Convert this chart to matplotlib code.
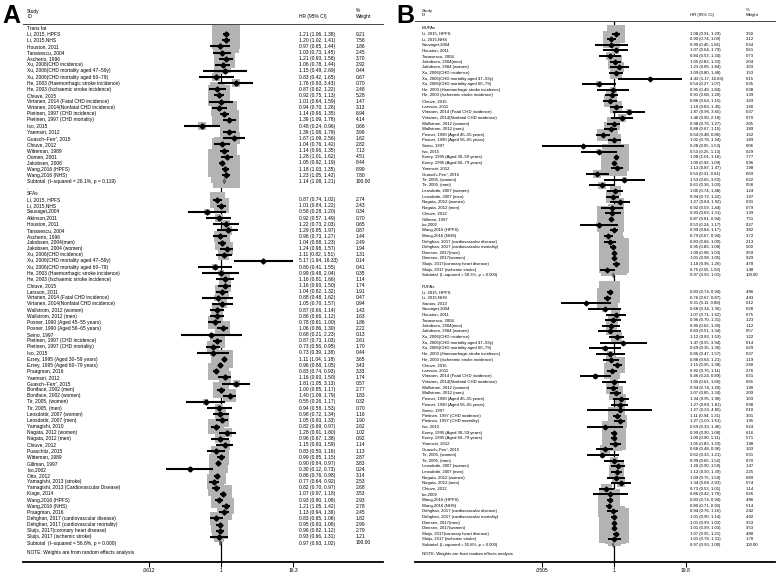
import numpy as np
import matplotlib
matplotlib.use("Agg")
import matplotlib.pyplot as plt
from matplotlib.transforms import blended_transform_factory

plt.rcParams['font.family'] = ['Liberation Sans', 'DejaVu Sans']

W, H, DPI = 778, 574, 100

# ---------------- Panel A: trans fat ----------------
trans_labels = [
    "Li, 2015, HPFS", "Li, 2015,NHS", "Houston, 2011", "Tanasescu, 2004", "Ascherio, 1996",
    "Xu, 2006(CHD incidence)", "Xu, 2006(CHD mortality aged 47–59y)", "Xu, 2006(CHD mortality aged 60–79)",
    "He, 2003 (Haemorrhagic stroke incidence)", "He, 2003 (Ischaemic stroke incidence)", "Chiuve, 2015",
    "Virtanen, 2014 (Fatal CHD incidence)", "Virtanen, 2014(Nonfatal CHD incidence)",
    "Pietinen, 1997 (CHD incidence)", "Pietinen, 1997 (CHD mortality)", "Iso, 2015", "Yaemsiri, 2012",
    "Guasch–Ferr', 2015", "Chiuve, 2012", "Witteman, 1989", "Oomen, 2001", "Jakobsen, 2008",
    "Wang,2016 (HPFS)", "Wang,2016 (NHS)",
]
trans_hr = [1.21, 1.20, 0.97, 1.03, 1.21, 1.06, 1.15, 0.83, 1.76, 0.87, 0.92, 1.01, 0.94,
            1.14, 1.39, 0.48, 1.39, 1.67, 1.04, 1.14, 1.28, 1.05, 1.18, 1.23]
trans_lo = [1.06, 1.02, 0.65, 0.73, 0.93, 0.78, 0.49, 0.42, 0.90, 0.62, 0.75, 0.64, 0.70,
            0.96, 1.09, 0.24, 1.08, 1.09, 0.76, 0.96, 1.01, 0.92, 1.03, 1.05]
trans_hi = [1.38, 1.41, 1.44, 1.45, 1.58, 1.44, 2.69, 1.65, 3.43, 1.22, 1.13, 1.59, 1.26,
            1.35, 1.78, 0.96, 1.79, 2.56, 1.42, 1.35, 1.62, 1.19, 1.35, 1.42]
trans_wt = [9.21, 7.58, 1.86, 2.45, 3.70, 2.92, 0.44, 0.67, 0.70, 2.48, 5.28, 1.47, 3.13,
            6.94, 4.14, 0.66, 3.99, 1.62, 2.82, 7.13, 4.51, 8.44, 8.99, 7.80]
trans_sub = (1.14, 1.08, 1.21, "26.1%", "0.119")

# ---------------- Panel A: SFAs ----------------
sfa_labels = [
    "Li, 2015, HPFS", "Li, 2015,NHS", "Sauvaget,2004", "Atkinson,2011", "Houston, 2011",
    "Tanasescu, 2004", "Ascherio, 1996", "Jakobsen, 2004(men)", "Jakobsen, 2004 (women)",
    "Xu, 2006(CHD incidence)", "Xu, 2006(CHD mortality aged 47–59y)", "Xu, 2006(CHD mortality aged 60–79)",
    "He, 2003 (Haemorrhagic stroke incidence)", "He, 2003 (Ischaemic stroke incidence)", "Chiuve, 2015",
    "Larsson, 2011", "Virtanen, 2014 (Fatal CHD incidence)", "Virtanen, 2014(Nonfatal CHD incidence)",
    "Wallstrom, 2012 (women)", "Wallstrom, 2012 (men)", "Posner, 1990 (Aged 45–55 years)",
    "Posner, 1990 (Aged 56–65 years)", "Seino, 1997", "Pietinen, 1997 (CHD incidence)",
    "Pietinen, 1997 (CHD mortality)", "Iso, 2015", "Ezrey, 1995 (Aged 30–59 years)",
    "Ezrey, 1995 (Aged 60–79 years)", "Praagman, 2016", "Yaemsiri, 2012", "Guasch–Ferr', 2015",
    "Boniface, 2002 (men)", "Boniface, 2002 (women)", "Tir, 2005, (women)", "Tir, 2005, (men)",
    "Leosdottir, 2007 (women)", "Leosdottir, 2007 (men)", "Yamagishi, 2010", "Nagata, 2012 (women)",
    "Nagata, 2012 (men)", "Chiuve, 2012", "Puaschitz, 2015", "Witteman, 1989", "Gillman, 1997",
    "Iso,2002", "Otto, 2012", "Yamagishi, 2013 (stroke)", "Yamagishi, 2013 (Cardiovascular Disease)",
    "Kiage, 2014", "Wang,2016 (HPFS)", "Wang,2016 (NHS)", "Praagman, 2016",
    "Dehghan, 2017 (cardiovascular disease)", "Dehghan, 2017 (cardiovascular mortality)",
    "Sluijs, 2017(coronary heart disease)", "Sluijs, 2017 (ischemic stroke)",
]
sfa_hr = [0.87, 1.01, 0.58, 0.92, 1.22, 1.29, 0.96, 1.04, 1.24, 1.11, 5.17, 0.80, 0.99, 1.16,
          1.16, 1.04, 0.88, 1.05, 0.87, 0.86, 0.78, 1.06, 0.68, 0.87, 0.73, 0.73, 1.11, 0.96,
          0.83, 1.16, 1.81, 1.00, 1.40, 0.55, 0.94, 0.98, 1.05, 0.82, 1.28, 0.96, 1.15, 0.83,
          0.99, 0.90, 0.30, 0.86, 0.77, 0.82, 1.07, 0.93, 1.21, 1.13, 0.83, 0.95, 0.96, 0.93]
sfa_lo = [0.74, 0.84, 0.28, 0.57, 0.73, 0.85, 0.73, 0.88, 0.98, 0.82, 1.64, 0.41, 0.48, 0.81,
          0.90, 0.82, 0.48, 0.70, 0.66, 0.66, 0.61, 0.86, 0.21, 0.73, 0.56, 0.39, 1.04, 0.88,
          0.74, 0.90, 1.05, 0.85, 1.09, 0.26, 0.58, 0.72, 0.83, 0.69, 0.91, 0.67, 0.83, 0.59,
          0.85, 0.84, 0.12, 0.76, 0.64, 0.70, 0.97, 0.80, 1.05, 0.94, 0.65, 0.83, 0.82, 0.66]
sfa_hi = [1.02, 1.22, 1.20, 1.49, 2.03, 1.97, 1.27, 1.23, 1.57, 1.51, 16.33, 1.55, 2.04, 1.66,
          1.50, 1.32, 1.62, 1.57, 1.14, 1.12, 1.00, 1.30, 2.23, 1.03, 0.95, 1.38, 1.18, 1.05,
          0.93, 1.50, 3.13, 1.17, 1.79, 1.17, 1.53, 1.34, 1.33, 0.97, 1.80, 1.38, 1.59, 1.16,
          1.15, 0.97, 0.73, 0.98, 0.92, 0.97, 1.18, 1.08, 1.42, 1.36, 1.06, 1.08, 1.12, 1.31]
sfa_wt = [2.74, 2.43, 0.34, 0.70, 0.65, 0.87, 1.44, 2.49, 1.94, 1.31, 0.14, 0.41, 0.35, 1.14,
          1.74, 1.91, 0.47, 0.94, 1.43, 1.63, 1.86, 2.22, 0.13, 2.61, 1.70, 0.44, 3.65, 3.43,
          3.33, 1.74, 0.57, 2.77, 1.83, 0.32, 0.70, 1.16, 1.90, 2.62, 1.02, 0.92, 1.14, 1.13,
          2.87, 3.83, 0.24, 3.14, 2.53, 2.68, 3.53, 2.93, 2.78, 2.45, 1.82, 2.99, 2.79, 1.21]
sfa_sub = (0.97, 0.93, 1.02, "56.8%", "0.000")

# ---------------- Panel B: MUFAs ----------------
mufa_labels = [
    "Li, 2015, HPFS", "Li, 2015,NHS", "Sauvaget,2004", "Houston, 2011", "Tanasescu, 2004",
    "Jakobsen, 2004(men)", "Jakobsen, 2004 (women)", "Xu, 2006(CHD incidence)",
    "Xu, 2006(CHD mortality aged 47–59y)", "Xu, 2006(CHD mortality aged 60–79)",
    "He, 2003 (Haemorrhagic stroke incidence)", "He, 2003 (Ischaemic stroke incidence)", "Chiuve, 2015",
    "Larsson, 2011", "Virtanen, 2014 (Fatal CHD incidence)", "Virtanen, 2014(Nonfatal CHD incidence)",
    "Wallstrom, 2012 (women)", "Wallstrom, 2012 (men)", "Posner, 1990 (Aged 45–55 years)",
    "Posner, 1990 (Aged 56–65 years)", "Seino, 1997", "Iso, 2015", "Ezrey, 1995 (Aged 30–59 years)",
    "Ezrey, 1995 (Aged 60–79 years)", "Yaemsiri, 2012", "Guasch–Ferr', 2015", "Tir, 2005, (women)",
    "Tir, 2005, (men)", "Leosdottir, 2007 (women)", "Leosdottir, 2007 (men)", "Nagata, 2012 (women)",
    "Nagata, 2012 (men)", "Chiuve, 2012", "Gillman, 1997", "Iso,2002", "Wang,2016 (HPFS)",
    "Wang,2016 (NHS)", "Dehghan, 2017 (cardiovascular disease)", "Dehghan, 2017 (cardiovascular mortality)",
    "Dinesen, 2017(men)", "Dinesen, 2017(women)", "Sluijs, 2017(coronary heart disease)",
    "Sluijs, 2017 (ischemic stroke)",
]
mufa_hr = [1.08, 0.90, 0.90, 1.07, 0.84, 1.05, 1.23, 1.09, 4.43, 0.54, 0.95, 0.91, 0.86, 1.10,
           1.87, 1.40, 0.98, 0.88, 0.64, 1.02, 0.28, 0.53, 1.08, 1.00, 1.13, 0.50, 1.53, 0.61,
           1.05, 0.94, 1.27, 0.92, 0.93, 0.87, 0.53, 0.99, 0.79, 0.83, 0.95, 1.00, 1.01, 1.10, 0.75]
mufa_lo = [0.91, 0.74, 0.45, 0.64, 0.53, 0.83, 0.85, 0.80, 1.17, 0.27, 0.49, 0.68, 0.64, 0.83,
           0.96, 0.90, 0.76, 0.67, 0.48, 0.78, 0.05, 0.25, 1.01, 0.92, 0.87, 0.31, 0.65, 0.36,
           0.74, 0.72, 0.84, 0.59, 0.69, 0.81, 0.24, 0.84, 0.67, 0.66, 0.83, 0.98, 0.98, 0.96, 0.55]
mufa_hi = [1.29, 1.09, 1.81, 1.79, 1.34, 1.33, 1.84, 1.48, 16.83, 1.07, 1.84, 1.20, 1.15, 1.45,
           3.65, 2.18, 1.27, 1.15, 0.86, 1.34, 1.53, 1.13, 1.16, 1.09, 1.47, 0.81, 3.63, 1.03,
           1.48, 1.22, 1.92, 1.44, 1.31, 0.94, 1.17, 1.17, 0.94, 1.09, 1.08, 1.03, 1.05, 1.26, 1.03]
mufa_wt = [3.50, 3.12, 0.34, 0.61, 0.73, 2.04, 1.03, 1.53, 0.15, 0.35, 0.38, 1.39, 1.69, 1.60,
           0.37, 0.70, 2.05, 1.89, 1.62, 1.89, 0.06, 0.29, 7.77, 6.96, 1.98, 0.69, 0.22, 0.58,
           1.24, 1.97, 0.91, 0.79, 1.39, 7.51, 0.27, 3.82, 3.72, 2.13, 5.00, 9.59, 9.29, 4.78, 1.48]
mufa_sub = (0.97, 0.93, 1.01, "50.3%", "0.000")

# ---------------- Panel B: PUFAs ----------------
pufa_labels = [
    "Li, 2015, HPFS", "Li, 2015,NHS", "Santos, 2013", "Sauvaget,2004", "Houston, 2011",
    "Tanasescu, 2004", "Jakobsen, 2004(men)", "Jakobsen, 2004 (women)", "Xu, 2006(CHD incidence)",
    "Xu, 2006(CHD mortality aged 47–59y)", "Xu, 2006(CHD mortality aged 60–79)",
    "He, 2003 (Haemorrhagic stroke incidence)", "He, 2003 (Ischaemic stroke incidence)", "Chiuve, 2015",
    "Larsson, 2011", "Virtanen, 2014 (Fatal CHD incidence)", "Virtanen, 2014(Nonfatal CHD incidence)",
    "Wallstrom, 2012 (women)", "Wallstrom, 2012 (men)", "Posner, 1990 (Aged 45–55 years)",
    "Posner, 1990 (Aged 56–65 years)", "Seino, 1997", "Pietinen, 1997 (CHD incidence)",
    "Pietinen, 1997 (CHD mortality)", "Iso, 2015", "Ezrey, 1995 (Aged 30–59 years)",
    "Ezrey, 1995 (Aged 60–79 years)", "Yaemsiri, 2012", "Guasch–Ferr', 2015", "Tir, 2005, (women)",
    "Tir, 2005, (men)", "Leosdottir, 2007 (women)", "Leosdottir, 2007 (men)", "Nagata, 2012 (women)",
    "Nagata, 2012 (men)", "Chiuve, 2012", "Iso,2002", "Wang,2016 (HPFS)", "Wang,2016 (NHS)",
    "Dehghan, 2017 (cardiovascular disease)", "Dehghan, 2017 (cardiovascular mortality)",
    "Dinesen, 2017(men)", "Dinesen, 2017(women)", "Sluijs, 2017(coronary heart disease)",
    "Sluijs, 2017 (ischemic stroke)",
]
pufa_hr = [0.83, 0.76, 0.31, 0.68, 1.07, 0.96, 0.90, 0.83, 1.12, 1.47, 0.69, 0.86, 0.88, 1.15,
           0.92, 0.46, 1.00, 0.94, 1.07, 1.34, 1.27, 1.27, 1.11, 1.27, 0.69, 0.99, 1.00, 1.05,
           0.68, 0.62, 0.99, 1.20, 1.12, 1.09, 1.34, 0.73, 0.86, 0.83, 0.80, 0.94, 1.01, 1.01,
           1.01, 1.07, 1.01]
pufa_lo = [0.74, 0.67, 0.11, 0.34, 0.71, 0.70, 0.62, 0.51, 0.82, 0.55, 0.35, 0.47, 0.64, 0.95,
           0.76, 0.24, 0.61, 0.74, 0.85, 0.95, 0.89, 0.33, 0.94, 1.00, 0.33, 0.90, 0.90, 0.83,
           0.48, 0.33, 0.65, 0.90, 0.90, 0.75, 0.88, 0.53, 0.42, 0.74, 0.71, 0.76, 0.90, 0.99,
           0.99, 0.95, 0.78]
pufa_hi = [0.94, 0.87, 0.88, 1.36, 1.62, 1.31, 1.30, 1.34, 1.53, 3.94, 1.36, 1.57, 1.21, 1.38,
           1.11, 0.89, 1.66, 1.20, 1.34, 1.90, 1.81, 4.85, 1.31, 1.61, 1.46, 1.08, 1.11, 1.33,
           0.96, 1.21, 1.52, 1.59, 1.39, 1.59, 2.03, 1.01, 1.76, 0.94, 0.90, 1.16, 1.14, 1.03,
           1.03, 1.21, 1.31]
pufa_wt = [4.86, 4.43, 0.12, 0.28, 0.75, 1.23, 1.12, 0.57, 1.22, 0.14, 0.29, 0.37, 1.19, 2.60,
           2.76, 0.31, 0.65, 1.90, 2.09, 1.03, 0.98, 0.10, 3.01, 1.95, 0.24, 6.16, 5.71, 1.98,
           1.03, 0.31, 0.70, 1.47, 2.25, 0.89, 0.74, 1.14, 0.26, 4.86, 5.14, 2.42, 4.92, 9.53,
           9.53, 4.80, 1.70]
pufa_sub = (0.97, 0.93, 1.00, "55.8%", "0.000")

BOX_GREY = "#b3b3b3"


def px(x):
    return x / W


def py(y):
    return 1 - y / H


def draw_panel(fig, left, right, top, first_row, last_row, one_px, per_ln, groups,
               fs, k_box, ci_lw, mk, x_lab, x_hr, x_wt, ticks, ticklabels):
    ax = fig.add_axes([px(left), py(562), px(right - left), (562 - top) / H])
    ax.set_xscale("log")
    ax.set_xlim(np.exp((left - one_px) / per_ln), np.exp((right - one_px) / per_ln))

    n_rows = sum(len(g[1]) + 2 for g in groups) + len(groups) - 1
    pitch = (last_row - first_row) / (n_rows - 1)
    ax.set_ylim(n_rows - 1 + (562 - last_row) / pitch, -(first_row - top) / pitch)

    for s in ["left", "right"]:
        ax.spines[s].set_visible(False)
    ax.spines["top"].set_linewidth(0.7)
    ax.spines["top"].set_color("#444444")
    ax.spines["bottom"].set_linewidth(1.3)
    ax.set_yticks([])
    ax.set_xticks(ticks)
    ax.set_xticklabels(ticklabels)
    ax.xaxis.set_minor_locator(matplotlib.ticker.NullLocator())
    ax.tick_params(axis="x", length=3.5, width=0.8, pad=1.0, labelsize=3.6)

    ax.axvline(1, color="black", lw=0.9, zorder=1)

    tr = blended_transform_factory(fig.transFigure, ax.transData)
    row = 0
    for gi, (name, labels, hr, lo, hi, wt, sub) in enumerate(groups):
        if gi > 0:
            ax.text(px(x_lab), row, ".", transform=tr, fontsize=fs, va="center")
            row += 1
        ax.text(px(x_lab), row, name, transform=tr, fontsize=fs, va="center")
        row += 1
        rows = np.arange(row, row + len(labels))
        side_pt = k_box * np.sqrt(np.array(wt)) * 72 / DPI
        ax.scatter(hr, rows, s=side_pt ** 2, marker="s", color=BOX_GREY, linewidths=0, zorder=2)
        ax.hlines(rows, lo, hi, color="black", lw=ci_lw, zorder=3)
        ax.plot(hr, rows, "D", color="black", ms=mk, zorder=4, lw=0)
        for r, lab, h, l, u, w in zip(rows, labels, hr, lo, hi, wt):
            ax.text(px(x_lab), r, lab, transform=tr, fontsize=fs, va="center")
            ax.text(px(x_hr), r, f"{h:.2f} ({l:.2f}, {u:.2f})", transform=tr, fontsize=fs, va="center")
            ax.text(px(x_wt), r, f"{w:.2f}", transform=tr, fontsize=fs, va="center")
        row += len(labels)
        est, slo, shi, i2, pval = sub
        ax.fill([slo, est, shi, est], [row, row - 0.45, row, row + 0.45],
                facecolor="#6e6e6e", edgecolor="#333333", lw=0.3, zorder=4)
        ax.text(px(x_lab), row, f"Subtotal  (I–squared = {i2}, p = {pval})", transform=tr,
                fontsize=fs, va="center")
        ax.text(px(x_hr), row, f"{est:.2f} ({slo:.2f}, {shi:.2f})", transform=tr, fontsize=fs, va="center")
        ax.text(px(x_wt), row, "100.00", transform=tr, fontsize=fs, va="center")
        row += 1
    ax.text(px(x_lab), row + 0.6, "NOTE: Weights are from random effects analysis", transform=tr,
            fontsize=fs, va="center")
    return ax


fig = plt.figure(figsize=(W / DPI, H / DPI), dpi=DPI)

# panel A
FS_A = 3.5
draw_panel(fig, 23, 383, 24, 28, 543, 221, 25.8,
           [("Trans fat", trans_labels, trans_hr, trans_lo, trans_hi, trans_wt, trans_sub),
            ("SFAs", sfa_labels, sfa_hr, sfa_lo, sfa_hi, sfa_wt, sfa_sub)],
           fs=FS_A, k_box=9.5, ci_lw=1.5, mk=2.6, x_lab=27, x_hr=299, x_wt=356,
           ticks=[0.0612, 1, 16.3], ticklabels=[".0612", "1", "16.3"])
fig.text(px(2), py(23), "A", fontsize=18, weight="bold", va="baseline")
fig.text(px(27), py(11), "Study", fontsize=FS_A, va="center")
fig.text(px(27), py(16.7), "ID", fontsize=FS_A, va="center")
fig.text(px(299), py(16.7), "HR (95% CI)", fontsize=FS_A, va="center")
fig.text(px(356), py(11), "%", fontsize=FS_A, va="center")
fig.text(px(356), py(16.7), "Weight", fontsize=FS_A, va="center")

# panel B
FS_B = 3.05
draw_panel(fig, 415, 775, 21, 28, 545, 614, 24.1,
           [("MUFAs", mufa_labels, mufa_hr, mufa_lo, mufa_hi, mufa_wt, mufa_sub),
            ("PUFAs", pufa_labels, pufa_hr, pufa_lo, pufa_hi, pufa_wt, pufa_sub)],
           fs=FS_B, k_box=9.7, ci_lw=1.4, mk=2.4, x_lab=422, x_hr=690, x_wt=746,
           ticks=[0.0505, 1, 19.8], ticklabels=[".0505", "1", "19.8"])
fig.text(px(396), py(23), "B", fontsize=18, weight="bold", va="baseline")
fig.text(px(422), py(10.7), "Study", fontsize=FS_B, va="center")
fig.text(px(422), py(15), "ID", fontsize=FS_B, va="center")
fig.text(px(690), py(15), "HR (95% CI)", fontsize=FS_B, va="center")
fig.text(px(746), py(10.3), "%", fontsize=FS_B, va="center")
fig.text(px(746), py(15), "Weight", fontsize=FS_B, va="center")

fig.savefig("out.png", dpi=DPI)
